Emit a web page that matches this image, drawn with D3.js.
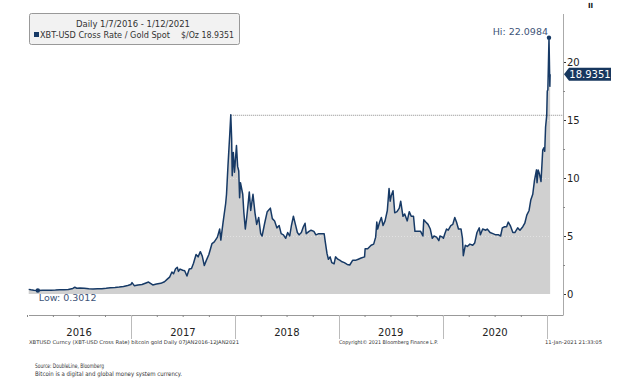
<!DOCTYPE html>
<html><head><meta charset="utf-8">
<script src="https://cdn.jsdelivr.net/npm/d3@7"></script>
<style>
body{margin:0;background:#fff;}
svg{display:block;font-family:"DejaVu Sans",Verdana,sans-serif;}
</style></head>
<body><svg id="c" width="624" height="382"></svg>
<script>
// ---- data ----
const dates = [
"2016-01-07","2016-01-15","2016-01-25","2016-02-08","2016-02-25","2016-03-10","2016-03-25","2016-04-10","2016-04-25","2016-05-10","2016-05-25","2016-06-10","2016-06-17","2016-06-24","2016-07-05","2016-07-20","2016-08-05","2016-08-20","2016-09-05","2016-09-20","2016-10-05","2016-10-20","2016-11-05","2016-11-20","2016-12-05","2016-12-20","2016-12-31",
"2017-01-04","2017-01-12","2017-01-25","2017-02-08","2017-02-22","2017-03-03","2017-03-18","2017-03-31","2017-04-15","2017-04-28","2017-05-08","2017-05-16","2017-05-24","2017-05-30","2017-06-06","2017-06-12","2017-06-16","2017-06-22","2017-07-01","2017-07-08","2017-07-16","2017-07-24","2017-08-01","2017-08-08","2017-08-17","2017-08-24","2017-09-01","2017-09-08","2017-09-15","2017-09-22","2017-10-01","2017-10-12","2017-10-20","2017-10-31","2017-11-08","2017-11-12","2017-11-20","2017-11-29","2017-12-02","2017-12-07","2017-12-10","2017-12-13","2017-12-17","2017-12-20","2017-12-22","2017-12-26","2017-12-30",
"2018-01-06","2018-01-10","2018-01-14","2018-01-17","2018-01-20","2018-01-28","2018-02-01","2018-02-06","2018-02-11","2018-02-16","2018-02-20","2018-02-25","2018-03-05","2018-03-12","2018-03-18","2018-03-25","2018-04-01","2018-04-06","2018-04-15","2018-04-24","2018-05-05","2018-05-12","2018-05-20","2018-05-28","2018-06-05","2018-06-12","2018-06-20","2018-06-28","2018-07-05","2018-07-12","2018-07-18","2018-07-25","2018-08-01","2018-08-08","2018-08-14","2018-08-22","2018-08-29","2018-09-04","2018-09-08","2018-09-18","2018-09-25","2018-10-05","2018-10-12","2018-10-22","2018-11-01","2018-11-10","2018-11-14","2018-11-20","2018-11-25","2018-12-01","2018-12-07","2018-12-15","2018-12-20","2018-12-28",
"2019-01-05","2019-01-10","2019-01-20","2019-01-30","2019-02-08","2019-02-18","2019-02-28","2019-03-10","2019-03-20","2019-04-01","2019-04-03","2019-04-12","2019-04-24","2019-05-03","2019-05-10","2019-05-14","2019-05-17","2019-05-24","2019-05-30","2019-06-05","2019-06-12","2019-06-20","2019-06-26","2019-06-30","2019-07-04","2019-07-10","2019-07-16","2019-07-24","2019-08-01","2019-08-06","2019-08-14","2019-08-20","2019-08-29","2019-09-05","2019-09-12","2019-09-20","2019-09-25","2019-10-05","2019-10-15","2019-10-23","2019-10-26","2019-11-02","2019-11-10","2019-11-18","2019-11-25","2019-12-01","2019-12-10","2019-12-18","2019-12-22","2019-12-31",
"2020-01-03","2020-01-08","2020-01-14","2020-01-20","2020-01-29","2020-02-05","2020-02-12","2020-02-18","2020-02-25","2020-03-05","2020-03-10","2020-03-13","2020-03-20","2020-03-27","2020-04-05","2020-04-15","2020-04-22","2020-04-30","2020-05-08","2020-05-12","2020-05-20","2020-05-31","2020-06-05","2020-06-15","2020-06-25","2020-07-05","2020-07-15","2020-07-22","2020-07-28","2020-08-05","2020-08-12","2020-08-18","2020-08-25","2020-09-03","2020-09-10","2020-09-20","2020-09-28","2020-10-08","2020-10-15","2020-10-22","2020-10-30","2020-11-05","2020-11-12","2020-11-18","2020-11-25","2020-11-27","2020-12-01","2020-12-05","2020-12-11","2020-12-17","2020-12-21","2020-12-24","2020-12-27","2020-12-31",
"2021-01-02","2021-01-04","2021-01-06","2021-01-08","2021-01-11","2021-01-12"
];
const values = [
0.40,0.36,0.33,0.3012,0.33,0.32,0.33,0.34,0.37,0.36,0.38,0.48,0.58,0.50,0.52,0.50,0.45,0.44,0.46,0.46,0.49,0.53,0.56,0.60,0.65,0.74,0.82,
0.98,0.72,0.78,0.82,0.95,1.03,0.78,0.86,0.92,1.06,1.28,1.45,1.90,1.75,2.18,2.30,1.95,2.15,2.05,2.00,1.55,2.15,2.20,2.65,3.40,3.20,3.65,3.25,2.45,2.90,3.40,4.35,4.50,4.90,5.60,4.65,6.20,7.80,8.60,11.0,12.3,13.6,15.45,13.4,10.2,12.2,10.5,
12.8,11.0,10.6,8.3,9.6,8.6,7.0,5.6,6.6,7.8,8.8,7.2,8.6,7.0,6.0,6.6,5.2,5.0,6.1,7.1,7.4,6.5,6.3,5.7,5.9,5.2,5.1,4.8,5.3,5.0,5.9,6.7,6.0,5.3,5.1,5.3,5.8,6.1,5.2,5.4,5.5,5.4,5.1,5.2,5.2,5.2,4.5,3.5,3.0,3.2,2.7,2.6,3.2,3.0,
2.9,2.8,2.7,2.55,2.5,2.9,2.9,3.0,3.1,3.2,3.9,3.9,4.2,4.3,4.9,6.2,5.6,6.2,6.6,5.9,6.3,7.2,9.1,8.0,8.5,8.9,7.0,7.1,7.4,8.0,6.7,6.9,6.3,7.1,6.7,6.7,5.4,5.4,5.4,5.0,6.4,6.2,6.0,5.6,4.8,5.0,4.9,4.6,5.0,4.9,
4.8,5.2,5.6,5.5,5.9,6.0,6.6,6.2,5.6,5.6,4.8,3.3,4.2,4.1,4.3,4.2,4.4,5.3,5.7,5.1,5.6,5.5,5.6,5.3,5.2,5.1,5.1,5.0,5.7,5.8,5.8,6.2,5.9,5.3,5.3,5.7,5.5,5.8,6.1,6.8,7.2,8.1,8.6,9.8,10.7,9.6,10.7,10.4,9.7,12.4,12.6,12.3,14.4,15.4,
17.5,17.6,19.8,22.0984,17.9,18.9351
];
const yTicks = [0,5,10,15,20];
const years = ["2016","2017","2018","2019","2020"];
const hiValue = 22.0984, hiDate = "2021-01-08";
const lowValue = 0.3012, lowDate = "2016-02-08";
const lastValue = 18.9351;
const prevPeak = 15.45, prevPeakDate = "2017-12-17";

// ---- drawing ----
const parse = d3.timeParse("%Y-%m-%d");
const data = dates.map((d,i)=>({d:parse(d), v:values[i]}));
const svg = d3.select("#c");
const x = d3.scaleTime().domain([new Date(2016,0,1), new Date(2021,0,1)]).range([27,547]);
const y = d3.scaleLinear().domain([0,20]).range([294,62]);
const axisX = 563, bottomY = 315;
const navy = "#173a66";

const area = d3.area().x(d=>x(d.d)).y0(y(0)).y1(d=>y(d.v));
// area fill
svg.append("path").datum(data).attr("d", area).attr("fill","#d0d0d0");
svg.append("clipPath").attr("id","ac").append("path").datum(data).attr("d", area);

// faint grid lines, visible only inside the fill
svg.append("g").attr("clip-path","url(#ac)").selectAll("line").data(yTicks).join("line")
  .attr("x1",29).attr("x2",axisX).attr("y1",d=>y(d)+0.5).attr("y2",d=>y(d)+0.5)
  .attr("stroke","#e2e2e2").attr("stroke-dasharray","1,2").attr("stroke-width",1);

// dotted line from previous peak
svg.append("line")
  .attr("x1",x(parse(prevPeakDate))).attr("x2",axisX)
  .attr("y1",y(prevPeak)+0.5).attr("y2",y(prevPeak)+0.5)
  .attr("stroke","#8a8a8a").attr("stroke-dasharray","1,1").attr("stroke-width",1);

// line
svg.append("path").datum(data)
  .attr("d", d3.line().x(d=>x(d.d)).y(d=>y(d.v)))
  .attr("fill","none").attr("stroke",navy).attr("stroke-width",1.5).attr("stroke-linejoin","round");

// hi / low markers
svg.append("circle").attr("cx",x(parse(hiDate))).attr("cy",y(hiValue)).attr("r",2.2).attr("fill",navy);
svg.append("circle").attr("cx",x(parse(lowDate))).attr("cy",y(lowValue)).attr("r",2.2).attr("fill",navy);
svg.append("text").attr("x",x(parse(hiDate))-1).attr("y",y(hiValue)-3).attr("text-anchor","end")
  .attr("font-size",9.5).attr("fill","#3d5478").text("Hi: " + hiValue.toFixed(4));
svg.append("text").attr("x",x(parse(lowDate))+1).attr("y",y(lowValue)+10).attr("text-anchor","start")
  .attr("font-size",9.5).attr("fill","#3d5478").text("Low: " + lowValue.toFixed(4));

// right axis
const yAxis = d3.axisRight(y).tickValues(yTicks).tickSize(3).tickPadding(1).tickFormat(d3.format("d"));
const ga = svg.append("g").attr("transform",`translate(${axisX},0)`).call(yAxis);
ga.select(".domain").remove();
ga.selectAll("text").attr("font-size",10).attr("fill","#222").attr("font-family","DejaVu Sans");
ga.selectAll("line").attr("stroke","#333");
svg.append("line").attr("x1",axisX+0.5).attr("x2",axisX+0.5).attr("y1",14).attr("y2",bottomY)
  .attr("stroke","#aaa");
// minor ticks
svg.append("g").selectAll("line").data([2.5,7.5,12.5,17.5]).join("line")
  .attr("x1",axisX).attr("x2",axisX+2).attr("y1",d=>y(d)+0.5).attr("y2",d=>y(d)+0.5).attr("stroke","#888");

// value tag
const ty = y(lastValue);
svg.append("path")
  .attr("d",`M${axisX+1},${ty} L${axisX+6},${ty-6.5} L${axisX+48},${ty-6.5} L${axisX+48},${ty+6.5} L${axisX+6},${ty+6.5} Z`)
  .attr("fill","#17375e");
svg.append("text").attr("x",axisX+27).attr("y",ty+3.8).attr("text-anchor","middle")
  .attr("font-size",10).attr("fill","#fff").text(lastValue.toFixed(4));

// bottom x axis
svg.append("line").attr("x1",29).attr("x2",axisX+0.5).attr("y1",bottomY+0.5).attr("y2",bottomY+0.5).attr("stroke","#999");
const quarters = d3.timeMonth.every(3).range(new Date(2016,0,1), new Date(2021,0,2));
const xAxis = d3.axisBottom(x).tickValues(quarters).tickSize(2).tickFormat("");
const gx = svg.append("g").attr("transform",`translate(0,${bottomY})`).call(xAxis);
gx.select(".domain").remove();
gx.selectAll("line").attr("stroke","#888");
// year separators
const yearStarts = years.map(yy=>new Date(+yy+1,0,1));
svg.append("g").selectAll("line").data(yearStarts).join("line")
  .attr("x1",d=>Math.round(x(d))+0.5).attr("x2",d=>Math.round(x(d))+0.5)
  .attr("y1",bottomY).attr("y2",339).attr("stroke","#bbb");
svg.append("g").selectAll("text").data(years).join("text")
  .attr("x",d=>x(new Date(+d,6,2))).attr("y",336).attr("text-anchor","middle")
  .attr("font-size",10).attr("fill","#222").text(d=>d);

// small footers
svg.append("text").attr("x",29).attr("y",344).attr("font-size",5.2).attr("fill","#333")
  .attr("textLength",210).attr("lengthAdjust","spacingAndGlyphs")
  .text("XBTUSD Curncy (XBT-USD Cross Rate) bitcoin gold  Daily 07JAN2016-12JAN2021");
svg.append("text").attr("x",339).attr("y",344).attr("font-size",5.2).attr("fill","#333")
  .attr("textLength",99).attr("lengthAdjust","spacingAndGlyphs")
  .text("Copyright\u00a9 2021 Bloomberg Finance L.P.");
svg.append("text").attr("x",545).attr("y",344).attr("font-size",5.2).attr("fill","#333")
  .attr("textLength",57).attr("lengthAdjust","spacingAndGlyphs")
  .text("11-Jan-2021 21:33:05");
svg.append("text").attr("x",35).attr("y",368).attr("font-size",6.2).attr("fill","#333")
  .attr("textLength",69).attr("lengthAdjust","spacingAndGlyphs")
  .text("Source:  DoubleLine, Bloomberg");
svg.append("text").attr("x",35).attr("y",376).attr("font-size",6.2).attr("fill","#333")
  .attr("textLength",147).attr("lengthAdjust","spacingAndGlyphs")
  .text("Bitcoin is a digital and global money system currency.");

// legend box
const lg = svg.append("g");
lg.append("rect").attr("x",29.5).attr("y",13.5).attr("width",210).attr("height",31).attr("rx",2)
  .attr("fill","#f2f2f2").attr("stroke","#999");
lg.append("text").attr("x",133).attr("y",27).attr("text-anchor","middle").attr("font-size",9).attr("fill","#333")
  .attr("textLength",114).attr("lengthAdjust","spacingAndGlyphs")
  .text("Daily 1/7/2016 - 1/12/2021");
lg.append("rect").attr("x",34).attr("y",32).attr("width",5).attr("height",5).attr("fill","#173a66");
lg.append("text").attr("x",40).attr("y",38).attr("font-size",8.5).attr("fill","#333")
  .attr("textLength",130).attr("lengthAdjust","spacingAndGlyphs").text("XBT-USD Cross Rate / Gold Spot");
lg.append("text").attr("x",234).attr("y",38).attr("text-anchor","end").attr("font-size",8.5).attr("fill","#333")
  .attr("textLength",53).attr("lengthAdjust","spacingAndGlyphs")
  .text("$/Oz " + lastValue.toFixed(4));

// corner mark
svg.append("text").attr("x",588).attr("y",8).attr("font-size",7).attr("font-weight","bold").attr("fill","#111").text("II");
</script></body></html>
